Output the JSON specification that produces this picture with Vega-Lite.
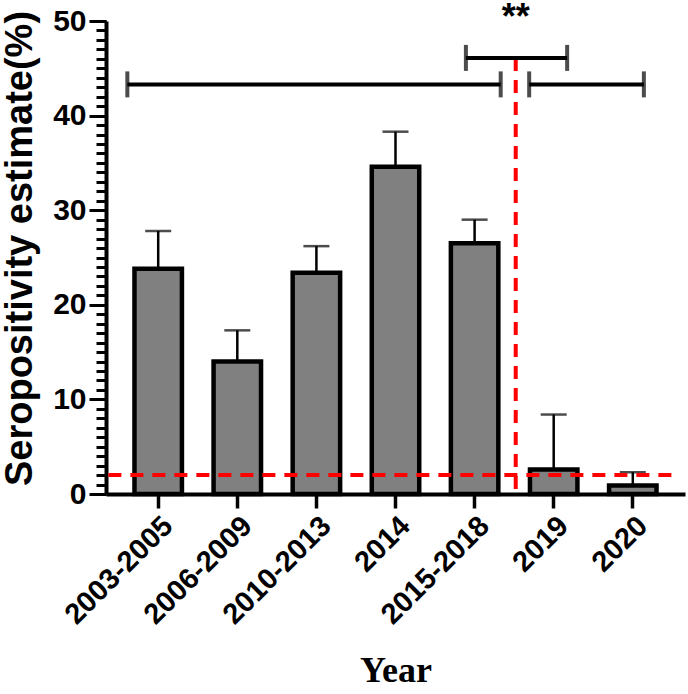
{
  "$schema": "https://vega.github.io/schema/vega-lite/v6.json",
  "width": 579,
  "height": 473,
  "autosize": {"type": "none"},
  "padding": {"left": 106, "top": 21, "right": 3, "bottom": 200},
  "background": "white",
  "config": {"view": {"stroke": null}, "font": "Liberation Sans"},
  "datasets": {
    "bars": [
      {"period": "2003-2005", "estimate": 23.8, "upper": 27.8},
      {"period": "2006-2009", "estimate": 14.0, "upper": 17.3},
      {"period": "2010-2013", "estimate": 23.4, "upper": 26.2},
      {"period": "2014", "estimate": 34.6, "upper": 38.3},
      {"period": "2015-2018", "estimate": 26.5, "upper": 29.0},
      {"period": "2019", "estimate": 2.6, "upper": 8.4},
      {"period": "2020", "estimate": 0.9, "upper": 2.3}
    ],
    "brackets": [
      {"from": 0.61, "to": 5.33, "level": 43.3},
      {"from": 5.69, "to": 7.14, "level": 43.3},
      {"from": 4.89, "to": 6.17, "level": 46.1}
    ]
  },
  "layer": [
    {
      "data": {"name": "bars"},
      "encoding": {
        "x": {
          "field": "period",
          "type": "nominal",
          "sort": null,
          "scale": {"paddingInner": 0.4, "paddingOuter": 0.36},
          "axis": {
            "title": "Year",
            "titleFont": "Liberation Serif",
            "titleFontSize": 36,
            "titleFontWeight": "bold",
            "titleColor": "black",
            "titleY": 176,
            "titleBaseline": "middle",
            "labelAngle": -45,
            "labelFont": "Liberation Sans",
            "labelFontSize": 29,
            "labelFontWeight": "bold",
            "labelColor": "black",
            "labelPadding": 3,
            "tickSize": 14,
            "tickWidth": 3.5,
            "tickColor": "black",
            "domainWidth": 4,
            "domainColor": "black"
          }
        }
      },
      "layer": [
        {
          "mark": {"type": "rule", "color": "black", "strokeWidth": 2.5},
          "encoding": {
            "y": {"field": "estimate", "type": "quantitative", "title": "Seropositivity estimate(%)", "scale": {"domain": [0, 50], "nice": false}},
            "y2": {"field": "upper"}
          }
        },
        {
          "mark": {"type": "bar", "fill": "#808080", "stroke": "black", "strokeWidth": 4.5},
          "encoding": {
            "y": {
              "field": "estimate",
              "type": "quantitative",
              "title": "Seropositivity estimate(%)",
              "scale": {"domain": [0, 50], "nice": false},
              "axis": {
                "values": [0,1,2,3,4,5,6,7,8,9,10,11,12,13,14,15,16,17,18,19,20,21,22,23,24,25,26,27,28,29,30,31,32,33,34,35,36,37,38,39,40,41,42,43,44,45,46,47,48,49,50],
                "tickCount": 100,
                "format": "d",
                "labelExpr": "datum.value % 10 === 0 ? datum.label : ''",
                "labelOverlap": false,
                "tickSize": 10,
                "tickWidth": 3,
                "tickColor": "black",
                "domainColor": "black",
                "domainWidth": 4,
                "grid": false,
                "labelFont": "Liberation Sans",
                "labelFontWeight": "bold",
                "labelFontSize": 30,
                "labelColor": "black",
                "labelPadding": 10,
                "titleFont": "Liberation Sans",
                "titleFontSize": 38,
                "titleFontWeight": "bold",
                "titleColor": "black",
                "titleX": -86,
                "titleY": 227,
                "titleAngle": -90,
                "titleAlign": "center",
                "titleBaseline": "middle"
              }
            }
          }
        },
        {
          "mark": {"type": "tick", "color": "black", "thickness": 2.5, "size": 26, "orient": "horizontal"},
          "encoding": {
            "y": {"field": "upper", "type": "quantitative", "title": "Seropositivity estimate(%)", "scale": {"domain": [0, 50], "nice": false}}
          }
        }
      ]
    },
    {
      "encoding": {
        "y": {
          "field": "level",
          "type": "quantitative",
          "scale": {"domain": [0, 50], "nice": false},
          "axis": {
            "orient": "left",
            "title": null,
            "values": [0, 10, 20, 30, 40, 50],
            "labels": false,
            "domain": false,
            "grid": false,
            "tickSize": 17,
            "tickWidth": 3,
            "tickColor": "black"
          }
        }
      },
      "layer": [
        {
          "data": {"values": [{"level": 2.0, "start": 0.37, "end": 7.49}]},
          "mark": {"type": "rule", "color": "#ff0000", "strokeWidth": 4, "strokeDash": [13, 9]},
          "encoding": {
            "x": {"field": "start", "type": "quantitative", "scale": {"domain": [0.34, 7.66], "nice": false, "zero": false}, "axis": null},
            "x2": {"field": "end"}
          }
        },
        {
          "data": {"values": [{"pos": 5.52, "bottom": 0, "level": 46.1}]},
          "mark": {"type": "rule", "color": "#ff0000", "strokeWidth": 4, "strokeDash": [13, 9]},
          "encoding": {
            "x": {"field": "pos", "type": "quantitative", "scale": {"domain": [0.34, 7.66], "nice": false, "zero": false}, "axis": null},
            "y2": {"field": "bottom"}
          }
        },
        {
          "data": {"name": "brackets"},
          "mark": {"type": "rule", "color": "black", "strokeWidth": 4},
          "encoding": {
            "x": {"field": "from", "type": "quantitative", "scale": {"domain": [0.34, 7.66], "nice": false, "zero": false}, "axis": null},
            "x2": {"field": "to"}
          }
        },
        {
          "data": {"name": "brackets"},
          "transform": [{"fold": ["from", "to"], "as": ["end", "pos"]}],
          "mark": {"type": "tick", "color": "black", "thickness": 4, "size": 26, "orient": "vertical"},
          "encoding": {
            "x": {"field": "pos", "type": "quantitative", "scale": {"domain": [0.34, 7.66], "nice": false, "zero": false}, "axis": null}
          }
        },
        {
          "data": {"values": [{"label": "**", "pos": 5.52, "level": 50.3}]},
          "mark": {"type": "text", "font": "Liberation Sans", "fontSize": 36, "fontWeight": "bold", "color": "black", "baseline": "middle"},
          "encoding": {
            "x": {"field": "pos", "type": "quantitative", "scale": {"domain": [0.34, 7.66], "nice": false, "zero": false}, "axis": null},
            "text": {"field": "label"}
          }
        }
      ]
    }
  ],
  "resolve": {"scale": {"x": "independent"}, "axis": {"x": "independent", "y": "independent"}}
}
